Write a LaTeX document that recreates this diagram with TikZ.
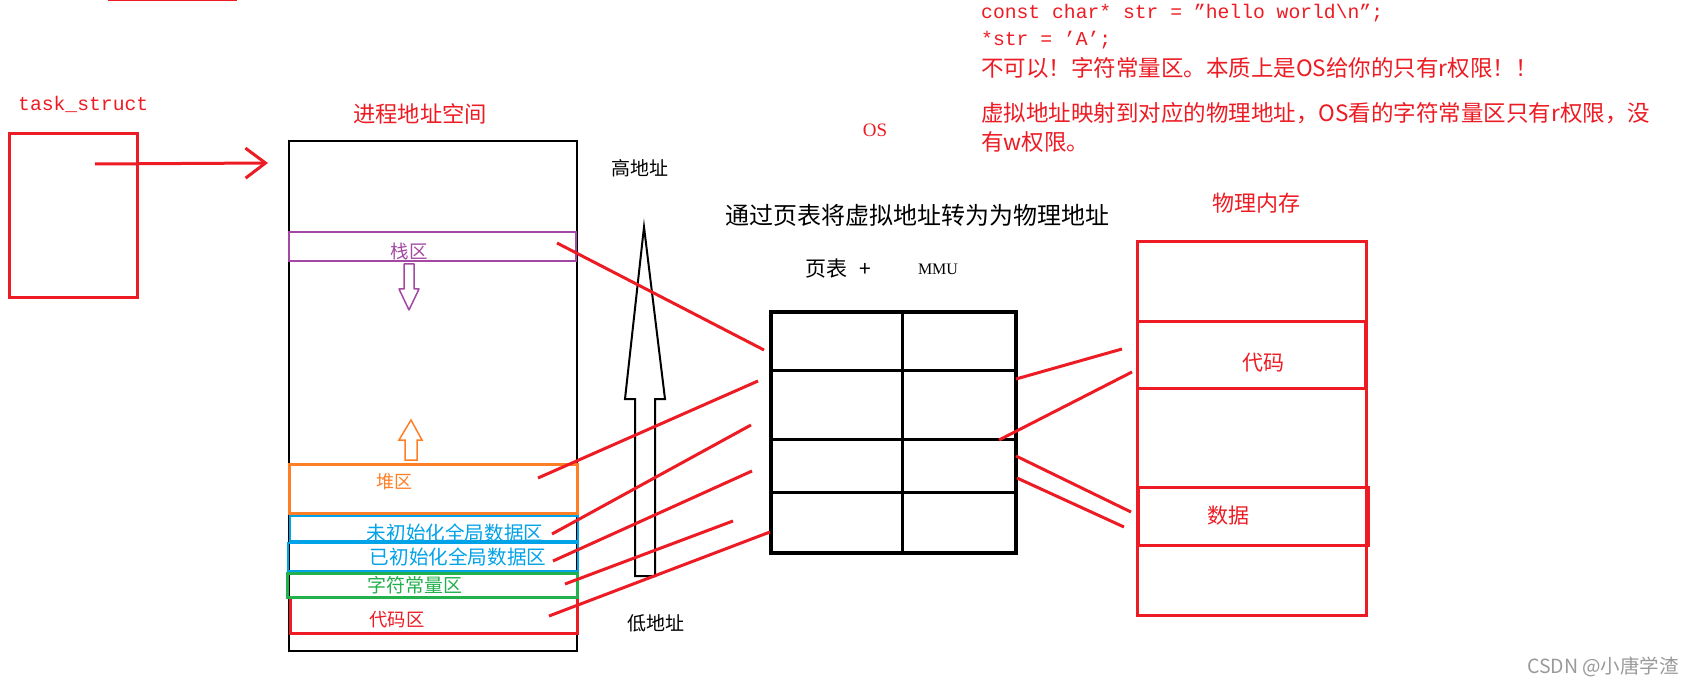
\documentclass[tikz,border=0pt]{standalone}
\usepackage{fontspec}
\setmainfont{Liberation Serif}
\setmonofont{Liberation Mono}
\newfontfamily\cjk{Noto Sans CJK SC}
\usetikzlibrary{arrows.meta}
\definecolor{pred}{HTML}{ED1C24}
\definecolor{ppurple}{HTML}{A349A4}
\definecolor{porange}{HTML}{FF7F27}
\definecolor{pblue}{HTML}{00A2E8}
\definecolor{pgreen}{HTML}{22B14C}
\definecolor{wmgray}{HTML}{9A9A9A}
\newcommand{\fsz}[1]{\fontsize{#1}{#1}\selectfont}

\begin{document}
\begin{tikzpicture}[x=1pt, y=-1pt,
  redline/.style={pred, line width=3pt},
  lbl/.style={inner sep=0pt},
  tbl/.style={black, line width=3pt}]
\useasboundingbox (0,0) rectangle (1694,684);
\fill[white] (0,0) rectangle (1694,684);

% end points of the mapping lines
\coordinate (ts) at (95,164);
\coordinate (tsP) at (268,163);
\coordinate (stk) at (557,243);
\coordinate (stkP) at (764,350);
\coordinate (heap) at (538,478);
\coordinate (heapP) at (758,381);
\coordinate (bss) at (552,534);
\coordinate (bssP) at (751,425);
\coordinate (dat) at (553,561);
\coordinate (datP) at (752,471);
\coordinate (ro) at (565,584);
\coordinate (roP) at (733,521);
\coordinate (txt) at (549,616);
\coordinate (txtP) at (770,532);
\coordinate (pA) at (1016,379);
\coordinate (mA) at (1122,349);
\coordinate (pB) at (999,440);
\coordinate (mB) at (1132,372);
\coordinate (pC) at (1016,456);
\coordinate (mC) at (1131,512);
\coordinate (pD) at (1017,478);
\coordinate (mD) at (1124,527);

% top right notes
\node[lbl, anchor=west, font=\ttfamily\fsz{19.7}, pred] (code1) at (981,13) {const char* str = ”hello world\textbackslash n”;};
\node[lbl, anchor=west, font=\ttfamily\fsz{19.7}, pred] (code2) at (981,40) {*str = ’A’;};
\node[lbl, anchor=west, font=\cjk\fsz{22.5}, pred] (note1) at (981,68) {不可以！字符常量区。本质上是OS给你的只有r权限！！};
\node[lbl, anchor=west, font=\cjk\fsz{22.5}, pred] (note2) at (981,113) {虚拟地址映射到对应的物理地址，OS看的字符常量区只有r权限，没};
\node[lbl, anchor=west, font=\cjk\fsz{22.5}, pred] (note3) at (981,142) {有w权限。};

% task_struct
\draw[redline] (108,0) -- (237,0);
\node[lbl, anchor=west, font=\ttfamily\fsz{19.7}, pred] (tslbl) at (18,104) {task\_struct};
\draw[redline] (9,134) rectangle (137,298);
\draw[redline, -{Straight Barb[length=20pt, width=30pt]}] (ts) -- (tsP);

% process address space
\node[lbl, font=\cjk\fsz{22.3}, pred] (vaslbl) at (420,114) {进程地址空间};
\draw[black, line width=2.5pt] (289,141) rectangle (577,651);
\draw[ppurple, line width=1.5pt] (289,232) rectangle (576,261);
\node[lbl, font=\cjk\fsz{18.5}, ppurple] (stklbl) at (409,251) {栈区};
\draw[ppurple, line width=1.5pt, line join=round] (404,264) -- (414,264) -- (414,289) -- (419,289) -- (409,310) -- (399,289) -- (404,289) -- cycle;
\draw[porange, line width=1.5pt] (405,460) -- (405,440) -- (399,440) -- (411,420) -- (422,440) -- (417,440) -- (417,460) -- cycle;
\draw[porange, line width=3pt] (289,464) rectangle (577,513);
\node[lbl, font=\cjk\fsz{18}, porange] (heaplbl) at (394,482) {堆区};
\draw[pblue, line width=2.5pt] (290,516) rectangle (578,541);
\node[lbl, font=\cjk\fsz{19.6}, pblue] (bsslbl) at (455,533) {未初始化全局数据区};
\draw[pblue, line width=2.5pt] (288,543) rectangle (578,571);
\node[lbl, font=\cjk\fsz{19.6}, pblue] (datlbl) at (458,557) {已初始化全局数据区};
\draw[pred, line width=3pt] (290,597) rectangle (577,633);
\draw[pgreen, line width=3pt] (287,573) rectangle (577,597);
\node[lbl, font=\cjk\fsz{19}, pgreen] (rolbl) at (415,585) {字符常量区};
\node[lbl, font=\cjk\fsz{18.3}, pred] (txtlbl) at (397,620) {代码区};

% high / low address arrow
\node[lbl, font=\cjk\fsz{19}] (hilbl) at (640,168) {高地址};
\node[lbl, font=\cjk\fsz{19}] (lolbl) at (656,623) {低地址};
\draw[black, line width=2pt] (635,576) -- (635,399) -- (625,399) -- (644,227) -- (665,399) -- (655,399) -- (655,576) -- cycle;

% page table
\node[lbl, font=\rmfamily\fsz{19}, pred] (oslbl) at (875,130) {OS};
\node[lbl, font=\cjk\fsz{24}] (ptitle) at (917,215) {通过页表将虚拟地址转为为物理地址};
\node[lbl, anchor=west, font=\cjk\fsz{21}] (ptlbl) at (805,269) {页表\hspace{12pt}+};
\node[lbl, font=\rmfamily\fsz{16}] (mmulbl) at (938,269) {MMU};
\draw[tbl, line width=4pt] (771,312) rectangle (1016,553);
\draw[tbl] (902,312) -- (902,553);
\draw[tbl] (771,370) -- (1016,370);
\draw[tbl] (771,439) -- (1016,439);
\draw[tbl] (771,492) -- (1016,492);

% physical memory
\node[lbl, font=\cjk\fsz{22}, pred] (pmlbl) at (1256,203) {物理内存};
\draw[redline] (1137,242) rectangle (1366,615);
\draw[redline] (1137,322) rectangle (1365,388);
\draw[redline] (1138,487) rectangle (1368,545);
\node[lbl, font=\cjk\fsz{21}, pred] (codelbl) at (1263,363) {代码};
\node[lbl, font=\cjk\fsz{21}, pred] (datalbl) at (1228,516) {数据};

% mappings
\draw[redline] (stk) -- (stkP);
\draw[redline] (heap) -- (heapP);
\draw[redline] (bss) -- (bssP);
\draw[redline] (dat) -- (datP);
\draw[redline] (ro) -- (roP);
\draw[redline] (txt) -- (txtP);
\draw[redline] (pA) -- (mA);
\draw[redline] (pB) -- (mB);
\draw[redline] (pC) -- (mC);
\draw[redline] (pD) -- (mD);

\node[lbl, font=\cjk\fsz{19.5}, wmgray] (wm) at (1603,667) {CSDN @小唐学渣};
\end{tikzpicture}
\end{document}
